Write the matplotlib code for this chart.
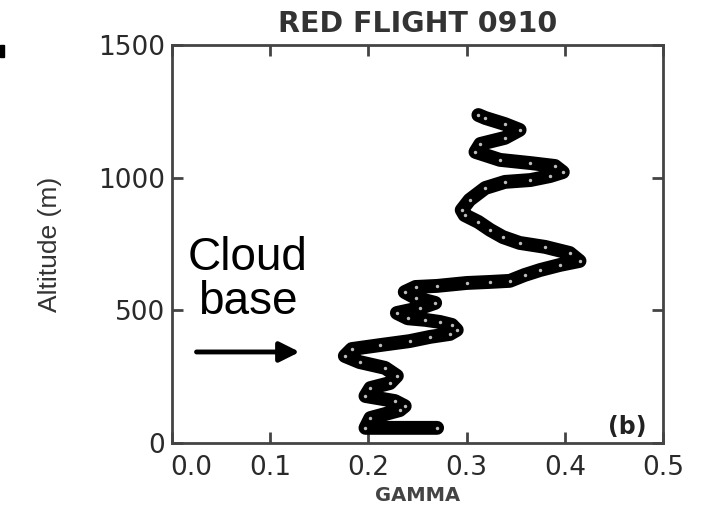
import numpy as np
import matplotlib
matplotlib.use("Agg")
import matplotlib.pyplot as plt
import matplotlib.patches as patches
import matplotlib.transforms as mtransforms

plt.rcParams['font.family'] = ['DejaVu Sans']

# profile, bottom to top
gamma = [0.270, 0.197, 0.202, 0.232, 0.237, 0.227, 0.197, 0.202, 0.222, 0.229,
         0.217, 0.191, 0.176, 0.183, 0.212, 0.242, 0.263, 0.283, 0.290, 0.285,
         0.273, 0.258, 0.240, 0.229, 0.253, 0.268, 0.248, 0.237, 0.248, 0.270,
         0.300, 0.324, 0.344, 0.359, 0.375, 0.395, 0.415, 0.405, 0.380, 0.354,
         0.337, 0.324, 0.312, 0.298, 0.295, 0.303, 0.319, 0.339, 0.365, 0.385,
         0.398, 0.390, 0.365, 0.334, 0.309, 0.314, 0.339, 0.354, 0.339, 0.319,
         0.312]
altitude = [57, 57, 94, 124, 139, 158, 177, 207, 226, 253,
            283, 305, 328, 354, 369, 384, 400, 411, 426, 445,
            456, 464, 470, 490, 509, 528, 547, 569, 588, 592,
            603, 607, 611, 633, 652, 671, 686, 716, 739, 754,
            776, 803, 833, 859, 878, 916, 961, 984, 991, 1006,
            1021, 1044, 1055, 1067, 1097, 1127, 1150, 1180, 1202, 1225,
            1236]

xticks = [0.0, 0.1, 0.2, 0.3, 0.4, 0.5]
yticks = [0, 500, 1000, 1500]
cloud_base = 343

fig = plt.figure(figsize=(7.06, 5.13), dpi=100)
ax = fig.add_axes([0.2436, 0.1365, 0.6955, 0.7758])

ax.plot(gamma, altitude, '-o', color='black', lw=10,
        solid_capstyle='round', solid_joinstyle='round',
        ms=3.5, mfc='#bbbbbb', mec='black', mew=1.0)

ax.set_xlim(0, 0.5)
ax.set_ylim(0, 1500)
ax.set_xticks(xticks)
ax.set_xticklabels([f'{t:.1f}' for t in xticks])
ax.set_yticks(yticks)
ax.tick_params(direction='in', length=8, width=2, color='#444',
               labelsize=19, labelcolor='#2a2a2a', top=True, right=True)
ax.tick_params(axis='x', pad=9)
ax.tick_params(axis='y', pad=5)
for s in ax.spines.values():
    s.set_linewidth(2)
    s.set_color('#444')

# first x label sits a little right of the corner, clear of the "0"
first = ax.get_xticklabels()[0]
first.set_transform(first.get_transform() +
                    mtransforms.ScaledTranslation(14 / 72, 0, fig.dpi_scale_trans))

ax.set_title('RED FLIGHT 0910', fontsize=20.5, fontweight='bold',
             color='#333', pad=9)
ax.set_xlabel('GAMMA', fontsize=14, fontweight='bold', color='#444',
              labelpad=3)
ax.set_ylabel('Altitude (m)', fontsize=19, color='#333', labelpad=26,
              family=['Liberation Sans'])

ax.text(0.967, 0.010, '(b)', transform=ax.transAxes, ha='right', va='bottom',
        fontsize=17, fontweight='bold', color='#222')

ax.text(0.077, 614, 'Cloud\nbase', ha='center', va='center', fontsize=33,
        color='black', linespacing=1.0, family=['Liberation Sans'])
ax.annotate('', xy=(0.130, cloud_base), xytext=(0.025, cloud_base),
            arrowprops=dict(arrowstyle='-|>', color='black', lw=3.5,
                            mutation_scale=30, shrinkA=0, shrinkB=0))

# small stray mark at the top-left edge of the scan
fig.patches.append(patches.Rectangle((0, 1 - 57 / 513), 4 / 706, 12 / 513,
                                     transform=fig.transFigure, color='black'))

fig.savefig('out.png', dpi=100)
